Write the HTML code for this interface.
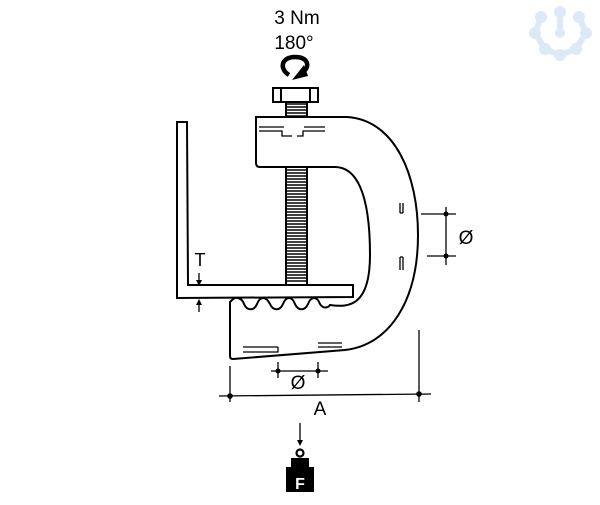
<!DOCTYPE html>
<html><head><meta charset="utf-8"><style>
html,body{margin:0;padding:0;background:#fff;}
svg{display:block;}
text{font-family:"Liberation Sans",Arial,sans-serif;fill:#000;}
</style></head><body>
<svg width="600" height="505" viewBox="0 0 600 505" xmlns="http://www.w3.org/2000/svg">
<!-- logo -->
<g fill="#dceaf7" stroke="#dceaf7" stroke-width="6" stroke-linecap="round">
<circle cx="560" cy="12" r="6" stroke="none"/><circle cx="541" cy="17" r="6" stroke="none"/><circle cx="579" cy="17" r="6" stroke="none"/>
<circle cx="535" cy="33" r="6" stroke="none"/><circle cx="586" cy="33" r="6" stroke="none"/>
<circle cx="545" cy="49" r="6" stroke="none"/><circle cx="576" cy="49" r="6" stroke="none"/><circle cx="560" cy="55" r="6" stroke="none"/>
<circle cx="560" cy="33" r="5" stroke="none"/>
<polyline fill="none" points="541,17 535,33 545,49 560,55 576,49 586,33 579,17"/>
<line x1="560" y1="12" x2="560" y2="33"/>
</g>
<!-- text -->
<text x="297" y="24" font-size="19" text-anchor="middle">3 Nm</text>
<text x="294" y="49" font-size="19" text-anchor="middle">180°</text>
<!-- rotation arrow -->
<path d="M289,75 C279,69 281,57 295,57 C308,57 310,66 304,71" fill="none" stroke="#000" stroke-width="4.5"/>
<path d="M292,80 L304,65 L308,76 Z" fill="#000"/>
<!-- screw (behind clamp) -->
<rect x="286" y="100" width="21" height="185" fill="#fff" stroke="#000" stroke-width="2"/>
<g stroke="#000" stroke-width="1.4">
<path d="M287,104 H306 M287,107 H306 M287,110 H306 M287,113 H306 M287,116 H306 M287,170 H306 M287,173 H306 M287,176 H306 M287,179 H306 M287,182 H306 M287,185 H306 M287,188 H306 M287,191 H306 M287,194 H306 M287,197 H306 M287,200 H306 M287,203 H306 M287,206 H306 M287,209 H306 M287,212 H306 M287,215 H306 M287,218 H306 M287,221 H306 M287,224 H306 M287,227 H306 M287,230 H306 M287,233 H306 M287,236 H306 M287,239 H306 M287,242 H306 M287,245 H306 M287,248 H306 M287,251 H306 M287,254 H306 M287,257 H306 M287,260 H306 M287,263 H306 M287,266 H306 M287,269 H306 M287,272 H306 M287,275 H306 M287,278 H306 M287,281 H306"/>
</g>
<g fill="none" stroke="#000" stroke-width="2">
<!-- nut -->
<rect x="273" y="88" width="45" height="14" fill="#fff"/>
<line x1="281" y1="88" x2="281" y2="102"/><line x1="310" y1="88" x2="310" y2="102"/>
<!-- angle -->
<path d="M177,122 L187,122 L188,285 L353,285 L353,297 L177,298 Z" fill="#fff"/>
<!-- clamp -->
<path d="M256,117 L347,117 C395,120 418,175 418,235 C418,300 390,345 345,350 L233,359 Q230,359 230,356 L230,302 L232,300
 C236,296 242,298 244,304 C247,311 254,311 257,304 C260,296 266,296 270,304 C273,311 280,311 283,304 C286,296 292,296 295,304 C298,311 305,311 308,304 C311,296 317,296 320,304 C323,309 328,308 330,305
 C350,308 370,305 370,255 C370,190 355,167 335,167 L260,167 Q256,167 256,163 Z" fill="#fff"/>
</g>
<!-- hidden dashes -->
<g fill="none" stroke="#000" stroke-width="1.3">
<path d="M259,127 H284 M259,131 H282 L282,136 H292 M297,136 H303 L303,131 H325 M304,127 H325"/>
<path d="M400,203 V213 M403,203 V213 M400,213 H403"/>
<path d="M400,257 V270 M403,257 V270 M400,257 H403"/>
<path d="M243,347 H278 M243,352 H278 V347 M318,343 H342 M318,347 H342"/>
</g>
<!-- dimensions -->
<g stroke="#000" stroke-width="1.3" fill="none">
<line x1="421" y1="214" x2="456" y2="214"/><line x1="427" y1="256" x2="456" y2="256"/><line x1="446" y1="207" x2="446" y2="265"/>
<line x1="199" y1="273" x2="199" y2="285"/><line x1="199" y1="302" x2="199" y2="312"/>
<line x1="278" y1="362" x2="278" y2="378"/><line x1="318" y1="362" x2="318" y2="378"/><line x1="271" y1="371" x2="328" y2="371"/>
<line x1="230" y1="366" x2="230" y2="402"/><line x1="419" y1="330" x2="419" y2="402"/>
<line x1="219" y1="396" x2="431" y2="394"/>
<line x1="300" y1="423" x2="300" y2="443"/>
</g>
<g fill="#000">
<circle cx="446" cy="214" r="2.5"/><circle cx="446" cy="256" r="2.5"/>
<circle cx="278" cy="371" r="2.5"/><circle cx="318" cy="371" r="2.5"/>
<circle cx="230" cy="396" r="2.8"/><circle cx="419" cy="394" r="2.8"/>
<path d="M196,280 L202,280 L199,286 Z"/><path d="M196,305 L202,305 L199,299 Z"/>
<path d="M297,440 L303,440 L300,446 Z"/>
</g>
<text x="466" y="244" font-size="19" text-anchor="middle">Ø</text>
<text x="298" y="389" font-size="19" text-anchor="middle">Ø</text>
<text x="200" y="266" font-size="18" text-anchor="middle">T</text>
<text x="320" y="415" font-size="19" text-anchor="middle">A</text>
<!-- weight -->
<circle cx="300" cy="453" r="3.5" fill="none" stroke="#000" stroke-width="2.2"/>
<path d="M291,458 H309 V467 H314 V492 H286 V467 H291 Z" fill="#000"/>
<text x="300" y="489" font-size="16" font-weight="bold" text-anchor="middle" style="fill:#fff">F</text>
</svg>
</body></html>
